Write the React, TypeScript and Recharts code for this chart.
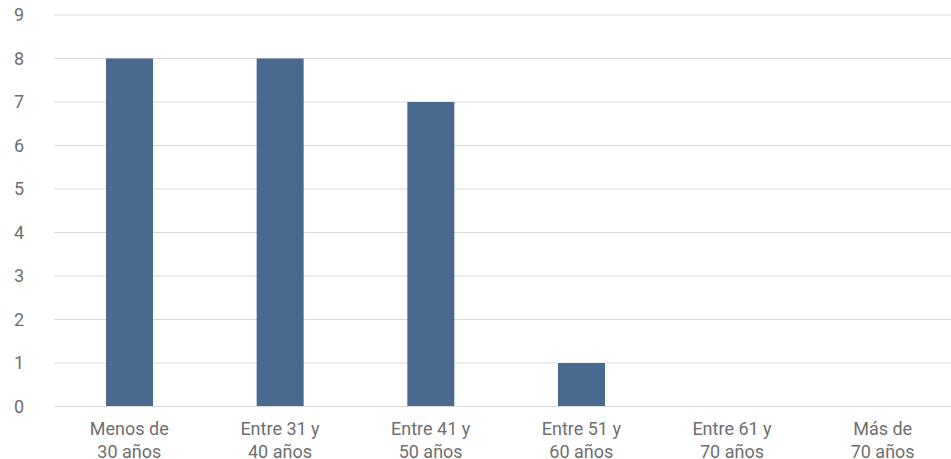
import { BarChart, Bar, CartesianGrid, XAxis, YAxis } from "recharts";

const categorias = [
    "Menos de\n30 años",
    "Entre 31 y\n40 años",
    "Entre 41 y\n50 años",
    "Entre 51 y\n60 años",
    "Entre 61 y\n70 años",
    "Más de\n70 años"
];

const valores = [8, 8, 7, 1, 0, 0];

const ticksY = [0, 1, 2, 3, 4, 5, 6, 7, 8, 9];

const FUENTE = "Roboto, 'Noto Sans', sans-serif";
const GRIS_TEXTO = "#6f6f6f";
const GRIS_LINEA = "#d9d9d9";

// etiqueta del eje X en dos líneas
function TickCategoria({ x, y, payload }: any) {
    const lineas = String(payload.value).split("\n");
    return (
        <text
            x={x}
            y={y}
            textAnchor="middle"
            fill={GRIS_TEXTO}
            fontFamily={FUENTE}
            fontSize={18}
        >
            {lineas.map((l, i) => (
                <tspan key={i} x={x} dy={i === 0 ? 20 : 23}>
                    {l}
                </tspan>
            ))}
        </text>
    );
}

export default function App() {
    const data = categorias.map((c, i) => ({ rango: c, total: valores[i] }));

    return (
        <div
            style={{
                position: "fixed",
                left: 0,
                top: 0,
                width: 951,
                height: 459,
                overflow: "hidden",
                background: "#fff"
            }}
        >
            <BarChart
                width={958}
                height={459}
                data={data}
                margin={{ top: 15, right: 0, left: 0, bottom: 0 }}
            >
                <CartesianGrid vertical={false} stroke={GRIS_LINEA} strokeWidth={1} />
                <XAxis
                    dataKey="rango"
                    interval={0}
                    height={52.5}
                    axisLine={{ stroke: GRIS_LINEA }}
                    tickLine={false}
                    tick={<TickCategoria />}
                />
                <YAxis
                    domain={[0, 9]}
                    ticks={ticksY}
                    width={54}
                    axisLine={false}
                    tickLine={false}
                    tickMargin={24}
                    tick={{ fill: GRIS_TEXTO, fontFamily: FUENTE, fontSize: 18 }}
                />
                <Bar dataKey="total" fill="#49698f" barSize={47} isAnimationActive={false} />
            </BarChart>
        </div>
    );
}
